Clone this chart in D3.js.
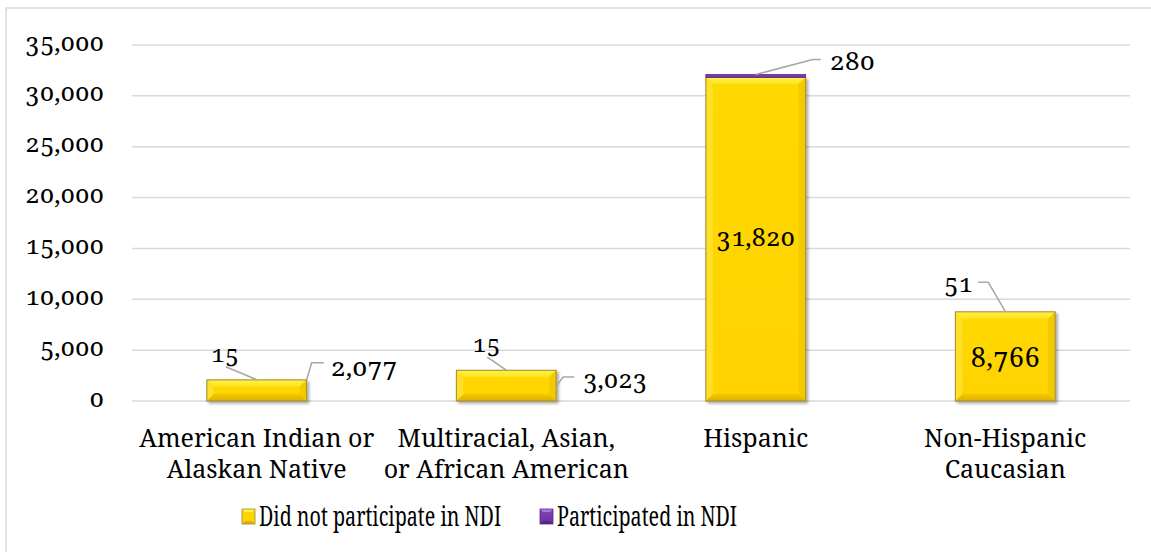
<!DOCTYPE html>
<html>
<head>
<meta charset="utf-8">
<script src="https://cdn.jsdelivr.net/npm/d3@7"></script>
<style>
  html, body { margin: 0; padding: 0; background: #fff; }
  svg { display: block; }
</style>
</head>
<body>
<svg id="chart" width="1151" height="552"></svg>
<script>
// Enrollment by ethnicity, split by NDI participation
const categories = [
  ["American Indian or", "Alaskan Native"],
  ["Multiracial, Asian,", "or African American"],
  ["Hispanic"],
  ["Non-Hispanic", "Caucasian"]
];
const didNotParticipate = [2077, 3023, 31820, 8766];
const participated = [15, 15, 280, 51];
const seriesNames = ["Did not participate in NDI", "Participated in NDI"];
const yTicks = [0, 5000, 10000, 15000, 20000, 25000, 30000, 35000];

const FONT = '"Noto Serif", serif';
const svg = d3.select("#chart");
const W = 1151, H = 552;
const margin = { left: 132, right: 21, top: 45, bottom: 151 };

function txt(sel) {
  return sel.style("font-family", FONT).style("font-variant-numeric", "oldstyle-nums").attr("fill", "#000");
}

// chart area frame
svg.append("path")
  .attr("d", `M6,${H + 2}V8H${W + 2}`)
  .attr("fill", "none").attr("stroke", "#d9d9d9").attr("stroke-width", 1.5);

const keys = categories.map((c, i) => i);
const x = d3.scaleBand().domain(keys)
  .range([margin.left, W - margin.right]).paddingInner(0.6).paddingOuter(0.3);
const y = d3.scaleLinear().domain([0, 35000]).range([H - margin.bottom, margin.top]);

// gridlines
svg.append("g").selectAll("line").data(yTicks).join("line")
  .attr("x1", margin.left).attr("x2", W - margin.right)
  .attr("y1", d => y(d)).attr("y2", d => y(d))
  .attr("stroke", "#d9d9d9").attr("stroke-width", 1.5);

// y axis labels
const yAxis = d3.axisLeft(y).tickValues(yTicks).tickSize(0).tickPadding(28)
  .tickFormat(d3.format(","));
const yg = svg.append("g").attr("transform", `translate(${margin.left},0)`).call(yAxis);
yg.select(".domain").remove();
txt(yg.selectAll("text")).style("font-size", "25px").attr("dy", "0.2em");

// category labels
const xg = svg.append("g");
keys.forEach(i => {
  const cx = x(i) + x.bandwidth() / 2;
  const t = txt(xg.append("text"))
    .attr("x", cx).attr("y", H - margin.bottom + 46)
    .attr("text-anchor", "middle").style("font-size", "25px");
  categories[i].forEach((line, j) => {
    t.append("tspan").attr("x", cx).attr("dy", j === 0 ? 0 : 31).text(line);
  });
});

// gradients and shadow
const defs = svg.append("defs");
function grad(id, stops) {
  const g = defs.append("linearGradient").attr("id", id)
    .attr("x1", 0).attr("y1", 0).attr("x2", 0).attr("y2", 1);
  stops.forEach(([o, c]) => g.append("stop").attr("offset", o).attr("stop-color", c));
}
grad("goldFace", [["0%", "#ffd900"], ["100%", "#ffd200"]]);
grad("goldTop", [["0%", "#fff14a"], ["100%", "#ffe21a"]]);
grad("goldBottom", [["0%", "#f2c800"], ["100%", "#deb000"]]);
grad("purpleFace", [["0%", "#8446bb"], ["100%", "#6a2e9c"]]);
const sh = defs.append("filter").attr("id", "shadow")
  .attr("x", "-10%").attr("y", "-10%").attr("width", "130%").attr("height", "130%");
sh.append("feGaussianBlur").attr("in", "SourceAlpha").attr("stdDeviation", 1.5).attr("result", "b");
sh.append("feOffset").attr("in", "b").attr("dx", 2).attr("dy", 2).attr("result", "o");
sh.append("feComponentTransfer").attr("in", "o").attr("result", "s")
  .append("feFuncA").attr("type", "linear").attr("slope", 0.35);
const shm = sh.append("feMerge");
shm.append("feMergeNode").attr("in", "s");
shm.append("feMergeNode").attr("in", "SourceGraphic");

const table = keys.map(i => ({ key: i, a: didNotParticipate[i], b: participated[i] }));
const stack = d3.stack().keys(["a", "b"])(table);

// bevelled gold bars with thin purple caps
const bars = svg.append("g");
stack[0].forEach((d, i) => {
  const x0 = x(i), x1 = x(i) + x.bandwidth();
  const yTop = y(d[1]), yBot = y(d[0]);
  const h = yBot - yTop;
  const b = Math.min(7, h / 3);
  const g = bars.append("g").attr("filter", "url(#shadow)");
  g.append("rect").attr("x", x0).attr("y", yTop).attr("width", x1 - x0).attr("height", h)
    .attr("fill", "url(#goldFace)");
  g.append("polygon").attr("fill", "url(#goldTop)")
    .attr("points", [[x0, yTop], [x1, yTop], [x1 - b, yTop + b], [x0 + b, yTop + b]].join(" "));
  g.append("polygon").attr("fill", "#ffdf2a")
    .attr("points", [[x0, yTop], [x0 + b, yTop + b], [x0 + b, yBot - b], [x0, yBot]].join(" "));
  g.append("polygon").attr("fill", "#f3c900")
    .attr("points", [[x1, yTop], [x1, yBot], [x1 - b, yBot - b], [x1 - b, yTop + b]].join(" "));
  g.append("polygon").attr("fill", "url(#goldBottom)")
    .attr("points", [[x0, yBot], [x0 + b, yBot - b], [x1 - b, yBot - b], [x1, yBot]].join(" "));
  g.append("rect").attr("x", x0).attr("y", yTop).attr("width", x1 - x0).attr("height", h)
    .attr("fill", "none").attr("stroke", "#9c8a36").attr("stroke-width", 1);
});
stack[1].forEach((d, i) => {
  const yTop = y(d[1]), h = y(d[0]) - y(d[1]);
  if (h < 1) return;
  bars.append("rect").attr("x", x(i)).attr("y", yTop).attr("width", x.bandwidth()).attr("height", h)
    .attr("fill", "url(#purpleFace)").attr("stroke", "#5b2a88").attr("stroke-width", 0.8);
});

// data labels with leader lines
const lab = svg.append("g");
const fmt = d3.format(",");
const leader = pts => lab.append("polyline").attr("points", pts.join(" "))
  .attr("fill", "none").attr("stroke", "#a6a6a6").attr("stroke-width", 1.5);
const label = (tx, ty, v, anchor, size) => txt(lab.append("text"))
  .attr("x", tx).attr("y", ty).attr("text-anchor", anchor)
  .style("font-size", size + "px").text(fmt(v));

keys.forEach(i => {
  const x0 = x(i), bw = x.bandwidth(), cx = x0 + bw / 2, x1 = x0 + bw;
  const top = y(didNotParticipate[i] + participated[i]);
  const mid = y(didNotParticipate[i] / 2);
  if (i === 0) {
    leader([[cx, top], [cx - 31, top - 13]]);
    label(cx - 32, top - 18, participated[i], "middle", 24);
    leader([[x1, top], [x1 + 5, top - 17], [x1 + 17, top - 17]]);
    label(x1 + 24, top - 4, didNotParticipate[i], "start", 26);
  } else if (i === 1) {
    leader([[cx, top], [cx - 19, top - 13]]);
    label(cx - 20, top - 18, participated[i], "middle", 24);
    leader([[x1 + 1, top + 15], [x1 + 7, top + 7], [x1 + 18, top + 7]]);
    label(x1 + 27, top + 18, didNotParticipate[i], "start", 25);
  } else if (i === 2) {
    leader([[cx, top], [cx + 57, top - 15], [cx + 65, top - 15]]);
    label(cx + 74, top - 4, participated[i], "start", 26);
    label(cx, mid + 7, didNotParticipate[i], "middle", 25);
  } else {
    leader([[cx, top], [cx - 17, top - 29], [cx - 27, top - 29]]);
    label(cx - 47, top - 19, participated[i], "middle", 25);
    label(cx, mid + 11, didNotParticipate[i], "middle", 27);
  }
});

// legend (text narrowed to the legend's condensed face)
const leg = svg.append("g");
const legItems = [
  { name: seriesNames[0], x: 242, face: "url(#goldFace)", light: "#fff14a", dark: "#deb000", stroke: "#9c8a36" },
  { name: seriesNames[1], x: 540, face: "url(#purpleFace)", light: "#a77ad6", dark: "#55257f", stroke: "#5b2a88" }
];
legItems.forEach(it => {
  const w = 13, h = 15, ly = 509, bv = 3;
  const g = leg.append("g");
  g.append("rect").attr("x", it.x).attr("y", ly).attr("width", w).attr("height", h).attr("fill", it.face);
  g.append("polygon").attr("fill", it.light)
    .attr("points", [[it.x, ly], [it.x + w, ly], [it.x + w - bv, ly + bv], [it.x + bv, ly + bv]].join(" "));
  g.append("polygon").attr("fill", it.dark)
    .attr("points", [[it.x, ly + h], [it.x + bv, ly + h - bv], [it.x + w - bv, ly + h - bv], [it.x + w, ly + h]].join(" "));
  g.append("rect").attr("x", it.x).attr("y", ly).attr("width", w).attr("height", h)
    .attr("fill", "none").attr("stroke", it.stroke).attr("stroke-width", 0.8);
  txt(g.append("text"))
    .attr("transform", `translate(${it.x + w + 4},${ly + 17}) scale(0.73,1)`)
    .style("font-size", "27px").text(it.name);
});
</script>
</body>
</html>
